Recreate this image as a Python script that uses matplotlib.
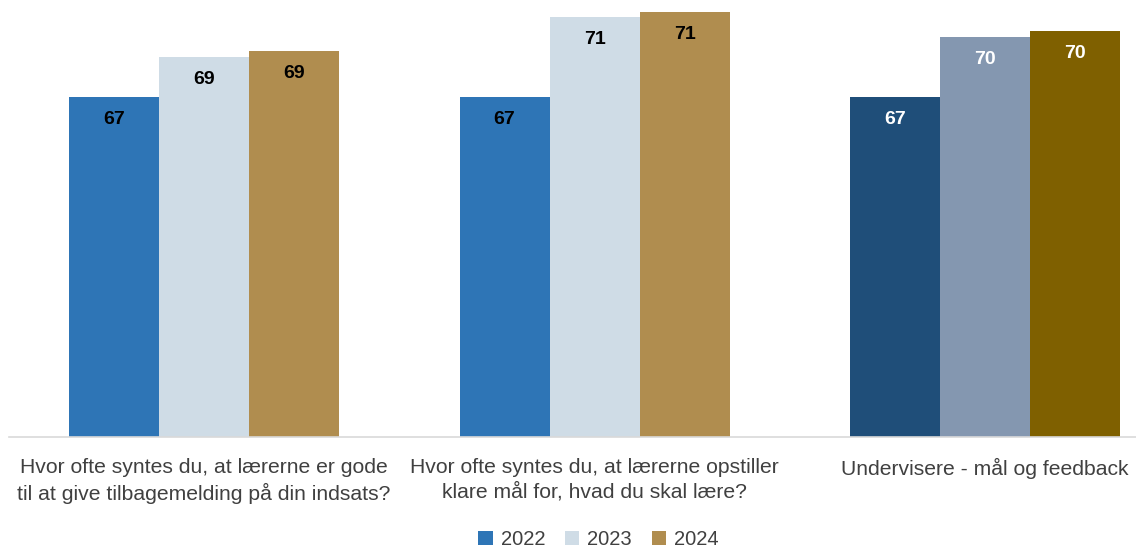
import matplotlib

matplotlib.use("Agg")
import matplotlib.pyplot as plt
import numpy as np
from matplotlib.patches import Patch

plt.rcParams["font.family"] = ["Liberation Sans", "DejaVu Sans"]

CATEGORIES = [
    "Hvor ofte syntes du, at lærerne er gode\ntil at give tilbagemelding på din indsats?",
    "Hvor ofte syntes du, at lærerne opstiller\nklare mål for, hvad du skal lære?",
    "Undervisere - mål og feedback",
]
YEARS = ["2022", "2023", "2024"]
VALUES_2022 = [67.0, 67.0, 67.0]
VALUES_2023 = [69.0, 71.0, 70.0]
VALUES_2024 = [69.3, 71.25, 70.3]
LABELS_2022 = ["67", "67", "67"]
LABELS_2023 = ["69", "71", "70"]
LABELS_2024 = ["69", "71", "70"]

# first two groups use light palette, the summary group a darker one
COLORS = [
    ["#2E75B6", "#CFDCE6", "#B08D4F"],
    ["#2E75B6", "#CFDCE6", "#B08D4F"],
    ["#1F4E79", "#8497B0", "#7F6000"],
]
TEXT_COLORS = ["black", "black", "white"]

fig = plt.figure(figsize=(11.36, 5.49), dpi=100)
ax = fig.add_axes([9 / 1136, 0.204, 1 - 9 / 1136, 0.796])

x = np.arange(len(CATEGORIES))
width = 0.2305
series = [VALUES_2022, VALUES_2023, VALUES_2024]
labels = [LABELS_2022, LABELS_2023, LABELS_2024]
for i, (vals, labs) in enumerate(zip(series, labels)):
    offs = (i - 1) * width
    for j in range(len(CATEGORIES)):
        ax.bar(x[j] + offs, vals[j] - 50, width, bottom=50, color=COLORS[j][i], edgecolor="none")
        ax.annotate(labs[j], (x[j] + offs, vals[j]), xytext=(0, -22), textcoords="offset pixels",
                    ha="center", va="center", fontsize=14, fontweight="bold",
                    color=TEXT_COLORS[j])

ax.set_xlim(-0.5, 2.387)
ax.set_ylim(50, 71.85)
ax.set_yticks([])
ax.set_xticks(x)
ax.set_xticklabels(CATEGORIES, fontsize=15.2, color="#404040", linespacing=1.35)
ax.tick_params(axis="x", length=0, pad=15)
for side in ("top", "right", "left"):
    ax.spines[side].set_visible(False)
ax.spines["bottom"].set_color("#D9D9D9")
ax.spines["bottom"].set_linewidth(1.2)

handles = [Patch(facecolor=c, edgecolor="none") for c in COLORS[0]]
fig.legend(handles, YEARS, loc="center", bbox_to_anchor=(0.527, 0.017), ncol=3, frameon=False,
           fontsize=14.5, handlelength=0.7, handleheight=0.7, handletextpad=0.4, columnspacing=1.0,
           labelcolor="#404040")

fig.savefig("out.png", dpi=100)
